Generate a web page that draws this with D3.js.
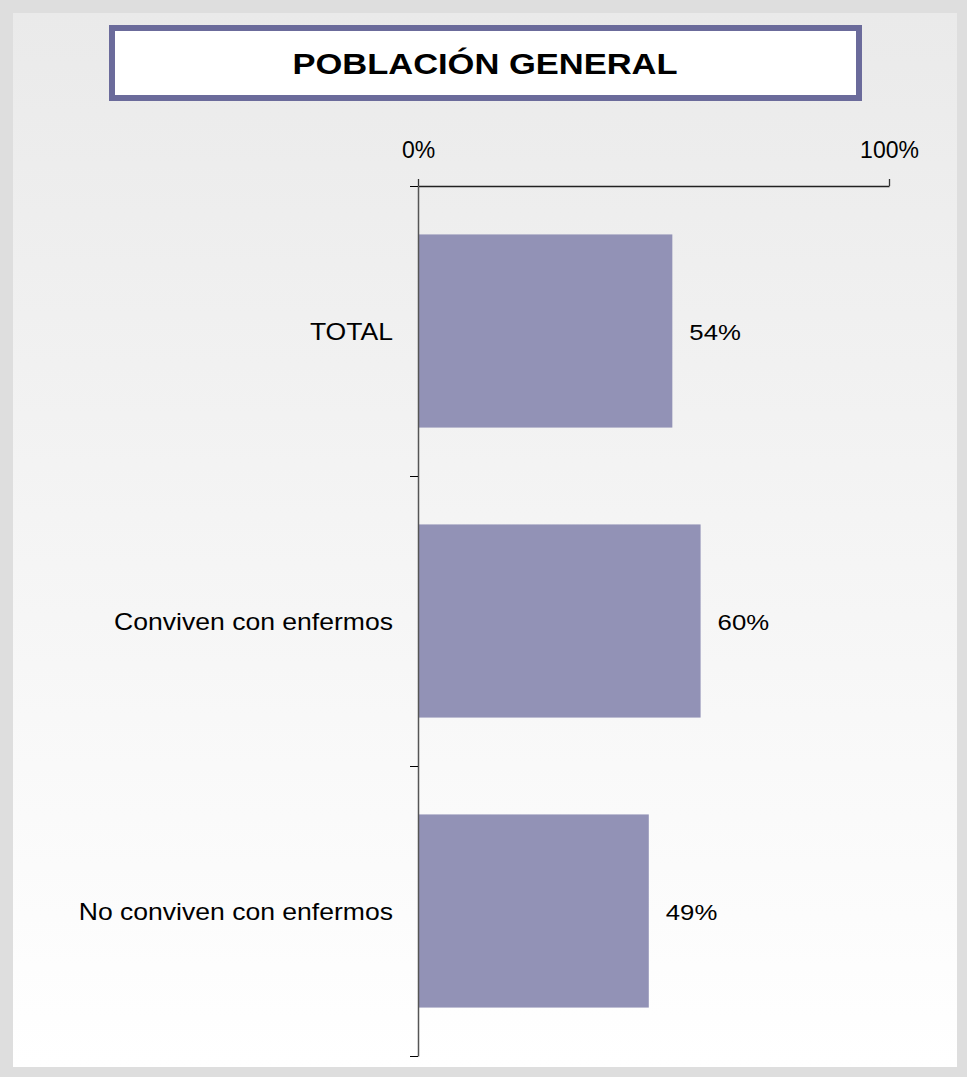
<!DOCTYPE html>
<html><head><meta charset="utf-8">
<script src="https://cdn.jsdelivr.net/npm/d3@7"></script>
<style>html,body{margin:0;padding:0;background:#fff;}svg{display:block;}</style>
</head><body>
<script>
const categories = ["TOTAL", "Conviven con enfermos", "No conviven con enfermos"];
const values = [54, 60, 49];
const tickLabels = ["0%", "100%"];
const titleText = "POBLACIÓN GENERAL";

const W = 967, H = 1077;
const font = "Liberation Sans, Arial, sans-serif";
const svg = d3.select("body").append("svg").attr("width", W).attr("height", H);
const defs = svg.append("defs");
const grad = defs.append("linearGradient").attr("id", "bg").attr("x1", 0).attr("y1", 0).attr("x2", 0).attr("y2", 1);
grad.append("stop").attr("offset", "0%").attr("stop-color", "#eaeaea");
grad.append("stop").attr("offset", "100%").attr("stop-color", "#ffffff");

svg.append("rect").attr("x", 0).attr("y", 0).attr("width", W).attr("height", H).attr("fill", "#dedede");
svg.append("rect").attr("x", 13).attr("y", 13).attr("width", 944).attr("height", 1054).attr("fill", "url(#bg)");

// Title box
svg.append("rect").attr("x", 112).attr("y", 28).attr("width", 747).attr("height", 70)
  .attr("fill", "#ffffff").attr("stroke", "#6b6b9b").attr("stroke-width", 6);
svg.append("text").attr("transform", "translate(485,73.5) scale(1.19,1)").attr("text-anchor", "middle")
  .attr("font-family", font).attr("font-weight", "bold")
  .attr("font-size", 29).attr("fill", "#000").text(titleText);

const x = d3.scaleLinear().domain([0, 100]).range([418, 889]);
const y = d3.scaleBand().domain(categories).range([186, 1056]).paddingInner(0.334).paddingOuter(0.167);

// bars
svg.selectAll("rect.bar").data(values).enter().append("rect").attr("class", "bar")
  .attr("x", x(0)).attr("y", (d, i) => y(categories[i]))
  .attr("width", d => x(d) - x(0)).attr("height", y.bandwidth()).attr("fill", "#9292b6");

// value labels
svg.selectAll("text.val").data(values).enter().append("text").attr("class", "val")
  .attr("transform", (d, i) => `translate(${x(d) + 17},${y(categories[i]) + y.bandwidth() / 2 + 9}) scale(1.12,1)`)
  .attr("font-family", font).attr("font-size", 23).attr("fill", "#000").text(d => d + "%");

// top axis
const xAxis = d3.axisTop(x).tickValues([0, 100]).tickFormat((d, i) => tickLabels[i]).tickSize(7).tickSizeOuter(0).tickPadding(21);
const gx = svg.append("g").attr("transform", "translate(0,186)").call(xAxis);
gx.selectAll(".tick text").attr("font-family", font).attr("font-size", 23).attr("fill", "#000").attr("dy", "0");

// left axis
const yl = d3.scaleLinear().domain([0, categories.length]).range([186, 1056]);
const yAxis = d3.axisLeft(yl).tickValues(d3.range(0, categories.length + 1)).tickFormat("").tickSize(8).tickSizeOuter(0);
const gy = svg.append("g").attr("transform", "translate(418,0)").call(yAxis);
gy.select(".domain").attr("stroke", "#555").attr("stroke-width", 1.5);
gy.selectAll(".tick line").attr("stroke", "#000");
gx.select(".domain").attr("stroke", "#222").attr("stroke-width", 1.3);
gx.selectAll(".tick line").attr("stroke", "#333").attr("stroke-width", 1.3);

// category labels
svg.selectAll("text.cat").data(categories).enter().append("text").attr("class", "cat")
  .attr("transform", d => `translate(393,${y(d) + y.bandwidth() / 2 + 8.5}) scale(1.155,1)`).attr("text-anchor", "end")
  .attr("font-family", font).attr("font-size", 23).attr("fill", "#000").text(d => d);
</script>
</body></html>
